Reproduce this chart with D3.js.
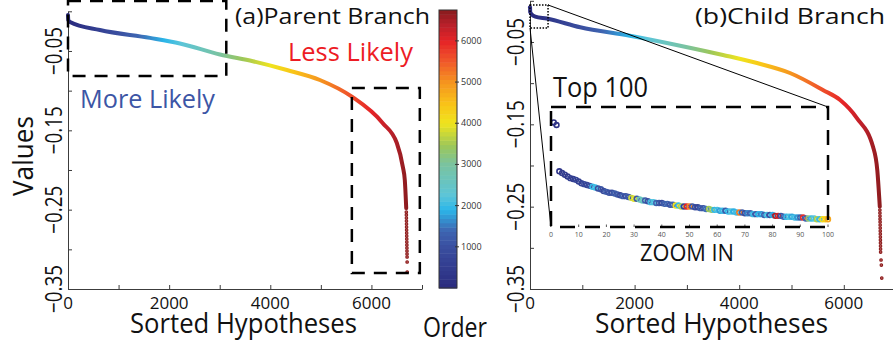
<!DOCTYPE html>
<html><head><meta charset="utf-8">
<script src="https://cdn.jsdelivr.net/npm/d3@7"></script>
<style>
html,body{margin:0;padding:0;background:#fff;}
svg{display:block;font-family:"Open Sans",sans-serif;}
</style></head><body>
<svg id="chart" width="893" height="347"></svg>
<script>
// ---------- data ----------
// sorted hypothesis rank -> value, parent branch (body of the curve)
const parentRank  = [0, 5, 40, 632, 1620, 2213, 3004, 3656, 4328, 4980, 5613, 6225, 6502, 6621, 6660, 6688];
const parentValue = [-0.0047, -0.0110, -0.0135, -0.0236, -0.0335, -0.0405, -0.0545, -0.0630, -0.0740, -0.0866, -0.1076, -0.1410, -0.1660, -0.1960, -0.2127, -0.2480];
// sparse lowest-ranked hypotheses, parent branch
const parentTailRank  = [6690, 6691, 6692, 6693, 6694, 6695, 6696, 6697, 6698, 6699, 6700, 6701, 6702, 6703, 6704, 6705, 6706, 6707];
const parentTailValue = [-0.2530, -0.2567, -0.2605, -0.2643, -0.2681, -0.2719, -0.2757, -0.2795, -0.2833, -0.2870, -0.2908, -0.2946, -0.2983, -0.3021, -0.3059, -0.3097, -0.3160, -0.3286];

// child branch
const childRank  = [0, 2, 3, 60, 100, 320, 960, 1910, 2870, 3690, 4340, 4970, 5600, 5930, 6250, 6560, 6640, 6688];
const childValue = [-0.0078, -0.0081, -0.0135, -0.0180, -0.0191, -0.0215, -0.0322, -0.0424, -0.0545, -0.0658, -0.0756, -0.0877, -0.1083, -0.1205, -0.1424, -0.1776, -0.2055, -0.2500];
const childTailRank  = [6690, 6691, 6692, 6693, 6694, 6695, 6696, 6697, 6698, 6699, 6700, 6701, 6702, 6703, 6704, 6712, 6718, 6726];
const childTailValue = [-0.2541, -0.2577, -0.2614, -0.2650, -0.2686, -0.2723, -0.2759, -0.2796, -0.2832, -0.2869, -0.2905, -0.2941, -0.2978, -0.3014, -0.3051, -0.3148, -0.3209, -0.3367];

// top 100 child hypotheses: value and parent order
const top100Value = [
  -0.0078, -0.0081, -0.0135, -0.0137, -0.0139, -0.0141, -0.0143, -0.0144, -0.0145, -0.0147,
  -0.0149, -0.0150, -0.0151, -0.0152, -0.0153, -0.0154, -0.0155, -0.0156, -0.0158, -0.0159,
  -0.0160, -0.0160, -0.0161, -0.0162, -0.0163, -0.0164, -0.0164, -0.0165, -0.0166, -0.0167,
  -0.0167, -0.0168, -0.0169, -0.0169, -0.0170, -0.0171, -0.0171, -0.0172, -0.0172, -0.0172,
  -0.0173, -0.0173, -0.0174, -0.0174, -0.0175, -0.0175, -0.0176, -0.0176, -0.0176, -0.0176,
  -0.0176, -0.0177, -0.0177, -0.0178, -0.0178, -0.0179, -0.0179, -0.0180, -0.0180, -0.0180,
  -0.0181, -0.0181, -0.0181, -0.0182, -0.0182, -0.0182, -0.0183, -0.0183, -0.0183, -0.0184,
  -0.0184, -0.0184, -0.0185, -0.0185, -0.0185, -0.0185, -0.0186, -0.0186, -0.0186, -0.0186,
  -0.0187, -0.0187, -0.0187, -0.0188, -0.0188, -0.0188, -0.0188, -0.0189, -0.0189, -0.0189,
  -0.0189, -0.0190, -0.0190, -0.0190, -0.0190, -0.0191, -0.0191, -0.0191, -0.0191, -0.0191
];
const top100Order = [
  150, 220, 310, 420, 520, 380, 610, 480, 700, 560,
  640, 820, 730, 900, 1950, 2050, 980, 1100, 860, 1200,
  1050, 940, 1250, 1150, 780, 1300, 1020, 1180, 3700, 3900,
  1080, 2650, 2550, 1220, 990, 2050, 2150, 1350, 1120, 880,
  1280, 1400, 1060, 1320, 4050, 2000, 3600, 600, 6000, 5100,
  1150, 950, 720, 1300, 1080, 1450, 3500, 3300, 1900, 2100,
  1750, 2000, 1200, 1950, 2200, 1850, 2050, 5200, 1250, 980,
  1600, 1380, 2000, 1150, 1900, 1700, 1300, 2100, 1050, 1850,
  6500, 6200, 1100, 1400, 1950, 2150, 1800, 2050, 1700, 1250,
  5900, 1350, 3300, 2000, 2200, 3600, 2000, 4100, 4300, 4800
];

// ticks
const xTicks = [0, 1000, 2000, 3000, 4000, 5000, 6000, 7000];
const xTickLabels = [0, 2000, 4000, 6000];
const yTicks = [-0.35, -0.3, -0.25, -0.2, -0.15, -0.1, -0.05, 0];
const yTickLabels = [-0.35, -0.25, -0.15, -0.05];
const orderTicks = [1000, 2000, 3000, 4000, 5000, 6000];
const insetTicks = [0, 10, 20, 30, 40, 50, 60, 70, 80, 90, 100];

// colour map for "Order"
const cmapStops  = [0, 1000, 1400, 1900, 2250, 3000, 3450, 4000, 4450, 5000, 5500, 6000, 6400, 6750];
const cmapColors = ["#2a2a7e", "#3a4fa0", "#3e66b2", "#2bb6e9", "#5cc5d8", "#7ac3a0", "#9cc75a",
                    "#efe41e", "#f9c518", "#f5941f", "#f0592a", "#e52327", "#b8202a", "#861b1d"];
const orderMax = 6750;

// ---------- drawing ----------
const svg = d3.select("#chart");
const color = d3.scaleLinear().domain(cmapStops).range(cmapColors).interpolate(d3.interpolateRgb);
const axisColor = "#3c3c3c";
const tailColor = "#8b1a1a";

function zip(a, b) { return a.map((v, i) => [v, b[i]]); }

function panel(id, xRange, yRange, rank, value, tailRank, tailValue) {
  const x = d3.scaleLinear().domain([0, 7000]).range(xRange);
  const y = d3.scaleLinear().domain([-0.35, 0]).range(yRange);
  const g = svg.append("g").attr("class", "panel-" + id);

  // axes (ticks pointing inward)
  const xa = g.append("g").attr("transform", `translate(0,${yRange[0]})`)
    .call(d3.axisBottom(x).tickValues(xTicks).tickSizeInner(-4).tickSizeOuter(0).tickFormat(""));
  const ya = g.append("g").attr("transform", `translate(${xRange[0]},0)`)
    .call(d3.axisLeft(y).tickValues(yTicks).tickSizeInner(-4).tickSizeOuter(0).tickFormat(""));
  [xa, ya].forEach(a => {
    a.select(".domain").attr("stroke", axisColor).attr("stroke-width", 1);
    a.selectAll(".tick line").attr("stroke", axisColor).attr("stroke-width", 1);
  });

  g.selectAll(".xlab").data(xTickLabels).join("text")
    .attr("x", d => x(d)).attr("y", yRange[0] + 20)
    .attr("text-anchor", "middle").attr("font-size", 17).attr("fill", "#111")
    .text(d => d);
  g.selectAll(".ylab").data(yTickLabels).join("text")
    .attr("transform", d => `translate(${xRange[0] - 6},${y(d)}) rotate(-90)`)
    .attr("text-anchor", "middle").attr("font-size", 24).attr("fill", "#111")
    .attr("textLength", 48).attr("lengthAdjust", "spacingAndGlyphs")
    .text(d => d3.format(".2f")(d).replace("-", "\u2212"));

  // curve coloured by order along the rank axis
  const gid = "grad-" + id;
  const grad = svg.append("defs").append("linearGradient").attr("id", gid)
    .attr("gradientUnits", "userSpaceOnUse")
    .attr("x1", x(0)).attr("x2", x(orderMax)).attr("y1", 0).attr("y2", 0);
  grad.selectAll("stop").data(cmapStops).join("stop")
    .attr("offset", d => d / orderMax).attr("stop-color", d => color(d));

  const line = d3.line().x(d => x(d[0])).y(d => y(d[1])).curve(d3.curveMonotoneX);
  g.append("path").datum(zip(rank, value))
    .attr("d", line).attr("fill", "none").attr("stroke", `url(#${gid})`)
    .attr("stroke-width", 4).attr("stroke-linecap", "round").attr("stroke-linejoin", "round");

  g.selectAll(".tail").data(zip(tailRank, tailValue)).join("circle")
    .attr("cx", d => x(d[0])).attr("cy", d => y(d[1])).attr("r", 1.3)
    .attr("fill", "#c26a6a").attr("stroke", tailColor).attr("stroke-width", 1.1);

  return { g, x, y };
}

const left = panel("a", [68, 422], [289, 11.3], parentRank, parentValue, parentTailRank, parentTailValue);
const right = panel("b", [530, 896.1], [289, 0.8], childRank, childValue, childTailRank, childTailValue);

// dashed highlight boxes on the parent branch
function dashedRect(g, x0, y0, x1, y1, dash, w) {
  g.append("rect").attr("x", Math.min(x0, x1)).attr("y", Math.min(y0, y1))
    .attr("width", Math.abs(x1 - x0)).attr("height", Math.abs(y1 - y0))
    .attr("fill", "none").attr("stroke", "#000").attr("stroke-width", w)
    .attr("stroke-dasharray", dash);
}
dashedRect(left.g, left.x(0), left.y(0.013), left.x(3130), left.y(-0.0815), "13,9", 2.5);
dashedRect(left.g, left.x(5613), left.y(-0.0967), left.x(6957), left.y(-0.3299), "13,9", 2.5);

// annotations, parent branch
function label(txt, x, y, size, len, fill) {
  return svg.append("text").attr("x", x).attr("y", y).attr("font-size", size)
    .attr("fill", fill || "#111").attr("textLength", len).attr("lengthAdjust", "spacingAndGlyphs")
    .text(txt);
}
label("(a)Parent Branch", 235, 23.5, 22, 195);
label("Less Likely", 288, 61, 26, 125, "#ed1c24");
label("More Likely", 80, 108, 26, 135, "#3c55a5");
label("Sorted Hypotheses", 130, 333, 28, 227);
svg.append("text").attr("transform", "translate(33,156) rotate(-90)")
  .attr("text-anchor", "middle").attr("font-size", 28).attr("fill", "#111")
  .attr("textLength", 80).attr("lengthAdjust", "spacingAndGlyphs").text("Values");

// colour bar
const cbX = 439, cbW = 18;
const cbY = d3.scaleLinear().domain([0, orderMax]).range([288, 10]);
const nSteps = 64;
const steps = d3.range(nSteps).map(i => i * orderMax / nSteps);
const cb = svg.append("g");
cb.selectAll("rect").data(steps).join("rect")
  .attr("x", cbX).attr("width", cbW)
  .attr("y", d => cbY(d + orderMax / nSteps)).attr("height", cbY(0) - cbY(orderMax / nSteps) + 0.5)
  .attr("fill", d => color(d + orderMax / nSteps / 2));
cb.append("rect").attr("x", cbX).attr("y", cbY(orderMax)).attr("width", cbW)
  .attr("height", cbY(0) - cbY(orderMax)).attr("fill", "none").attr("stroke", "#333").attr("stroke-width", 1);
cb.selectAll(".tk").data(orderTicks).join("line")
  .attr("x1", cbX + cbW - 2).attr("x2", cbX + cbW + 2)
  .attr("y1", d => cbY(d)).attr("y2", d => cbY(d)).attr("stroke", "#333");
cb.selectAll(".lb").data(orderTicks).join("text")
  .attr("x", cbX + cbW + 4).attr("y", d => cbY(d) + 3).attr("font-size", 9).attr("fill", "#333")
  .text(d => d);
label("Order", 423, 337, 28, 64);

// child branch annotations
label("(b)Child Branch", 695, 23.5, 22, 190);
label("Sorted Hypotheses", 595, 333, 28, 233);

// zoom region and inset of the top 100
const ix = d3.scaleLinear().domain([0, 100]).range([551, 828]);
const iy = d3.scaleLinear().domain([-0.006, -0.020]).range([107, 227]);
const zx0 = 0, zx1 = 345, zy0 = -0.0051, zy1 = -0.033;
const rg = right.g;
rg.append("rect").attr("x", right.x(zx0)).attr("y", right.y(zy0))
  .attr("width", right.x(zx1) - right.x(zx0)).attr("height", right.y(zy1) - right.y(zy0))
  .attr("fill", "none").attr("stroke", "#000").attr("stroke-width", 1.5).attr("stroke-dasharray", "1.5,1.5");
rg.append("line").attr("x1", right.x(zx1)).attr("y1", right.y(zy0)).attr("x2", ix(100)).attr("y2", iy(-0.006))
  .attr("stroke", "#000").attr("stroke-width", 1);
rg.append("line").attr("x1", right.x(zx0)).attr("y1", right.y(zy1)).attr("x2", ix(0)).attr("y2", iy(-0.020))
  .attr("stroke", "#000").attr("stroke-width", 1);

const ig = svg.append("g");
ig.append("rect").attr("x", ix(0)).attr("y", iy(-0.006)).attr("width", ix(100) - ix(0))
  .attr("height", iy(-0.020) - iy(-0.006)).attr("fill", "#fff");
ig.selectAll(".itk").data(insetTicks).join("line")
  .attr("x1", d => ix(d)).attr("x2", d => ix(d)).attr("y1", iy(-0.020)).attr("y2", iy(-0.020) - 2.5)
  .attr("stroke", "#555").attr("stroke-width", 1);
ig.selectAll(".ilb").data(insetTicks).join("text")
  .attr("x", d => ix(d)).attr("y", iy(-0.020) + 10).attr("text-anchor", "middle")
  .attr("font-size", 7).attr("fill", "#555").text(d => d);
ig.selectAll("circle").data(top100Value).join("circle")
  .attr("cx", (d, i) => ix(i + 1)).attr("cy", d => iy(d)).attr("r", 2.4)
  .attr("fill", "none").attr("stroke-width", 1.6)
  .attr("stroke", (d, i) => color(top100Order[i]));
dashedRect(ig, ix(0), iy(-0.006), ix(100), iy(-0.020), "15,10", 2.5);
label("Top 100", 553, 97, 27, 95);
label("ZOOM IN", 640, 260.5, 23, 94);
</script>
</body></html>
